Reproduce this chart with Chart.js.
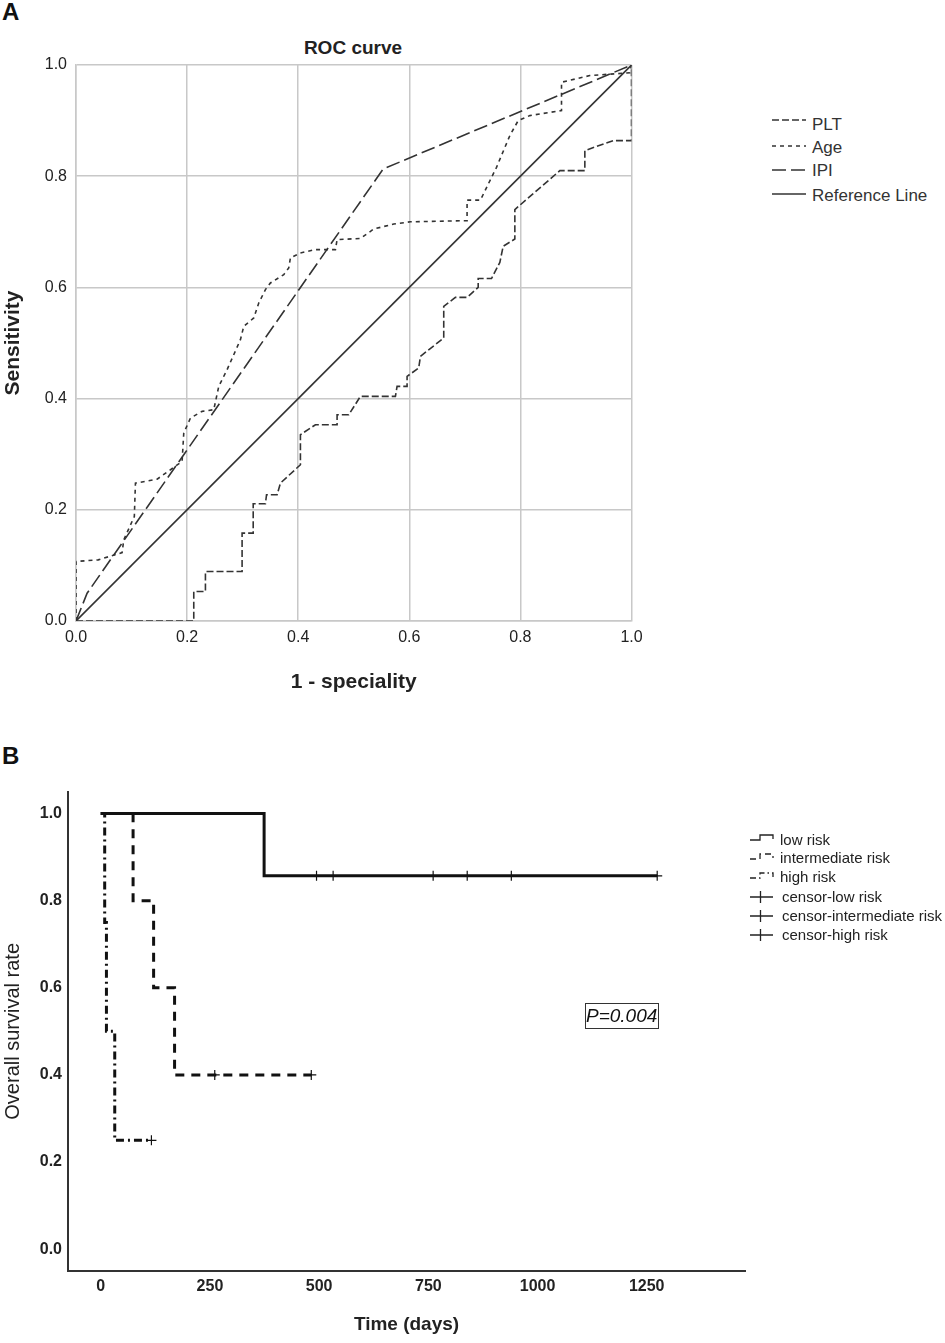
<!DOCTYPE html>
<html><head><meta charset="utf-8">
<script src="https://cdn.jsdelivr.net/npm/chart.js@4.4.1/dist/chart.umd.min.js"></script>
<style>
html,body{margin:0;padding:0;background:#fff;}
body{width:945px;height:1343px;position:relative;overflow:hidden;font-family:"Liberation Sans",Arial,sans-serif;color:#222;}
canvas{position:absolute;left:0;}
.t{position:absolute;white-space:nowrap;}
.panel{font-size:24px;font-weight:bold;line-height:24px;color:#111;}
.rocleg{font-size:17px;line-height:23px;color:#333;}
.kmleg{font-size:15px;line-height:18px;color:#222;}
#pbox{position:absolute;left:585px;top:1003px;width:72px;height:24px;border:1px solid #333;font-style:italic;font-size:19px;line-height:24px;color:#111;overflow:visible;}
</style></head>
<body>
<div class="t panel" style="left:2px;top:0px;">A</div>
<div class="t panel" style="left:2px;top:744px;">B</div>
<div class="t" style="left:253px;top:37px;width:200px;text-align:center;font-size:19px;font-weight:bold;line-height:22px;color:#222;">ROC curve</div>

<canvas id="cA" width="706" height="700" style="top:0;width:706px;height:700px;"></canvas>
<canvas id="cB" width="760" height="603" style="top:740px;width:760px;height:603px;"></canvas>

<!-- ROC legend -->
<svg style="position:absolute;left:770px;top:108px;" width="40" height="100">
  <line x1="2" y1="12" x2="36" y2="12" stroke="#333" stroke-width="1.6" stroke-dasharray="7,3"/>
  <line x1="2" y1="38" x2="36" y2="38" stroke="#333" stroke-width="1.6" stroke-dasharray="4,4"/>
  <line x1="2" y1="62" x2="36" y2="62" stroke="#333" stroke-width="1.6" stroke-dasharray="14,5"/>
  <line x1="2" y1="86" x2="36" y2="86" stroke="#333" stroke-width="1.6"/>
</svg>
<div class="t rocleg" style="left:812px;top:113px;">PLT</div>
<div class="t rocleg" style="left:812px;top:136px;">Age</div>
<div class="t rocleg" style="left:812px;top:159px;">IPI</div>
<div class="t rocleg" style="left:812px;top:184px;">Reference Line</div>

<!-- KM legend -->
<svg style="position:absolute;left:745px;top:826px;" width="35" height="120">
  <path d="M5,14 H15 V9 H28 V13" fill="none" stroke="#222" stroke-width="1.3"/>
  <path d="M5,33 H15 V28 H28 V32" fill="none" stroke="#222" stroke-width="1.3" stroke-dasharray="6,4"/>
  <path d="M5,52 H15 V47 H28 V51" fill="none" stroke="#222" stroke-width="1.3" stroke-dasharray="6,3,1.5,3"/>
  <path d="M5,71 H28 M15.5,65 V77" fill="none" stroke="#222" stroke-width="1.3"/>
  <path d="M5,90 H28 M15.5,84 V96" fill="none" stroke="#222" stroke-width="1.3"/>
  <path d="M5,109 H28 M15.5,103 V115" fill="none" stroke="#222" stroke-width="1.3"/>
</svg>
<div class="t kmleg" style="left:780px;top:831px;">low risk</div>
<div class="t kmleg" style="left:780px;top:849px;">intermediate risk</div>
<div class="t kmleg" style="left:780px;top:868px;">high risk</div>
<div class="t kmleg" style="left:782px;top:888px;">censor-low risk</div>
<div class="t kmleg" style="left:782px;top:907px;">censor-intermediate risk</div>
<div class="t kmleg" style="left:782px;top:926px;">censor-high risk</div>

<div id="pbox">P=0.004</div>

<script>
// ---------- ROC data ----------
const rocTicks = [0, 0.2, 0.4, 0.6, 0.8, 1.0];
const pltFpr = [0,0.212,0.212,0.233,0.233,0.299,0.299,0.319,0.319,0.341,0.343,0.362,0.368,0.404,0.404,0.431,0.47,0.47,0.491,0.512,0.575,0.578,0.596,0.596,0.617,0.62,0.662,0.662,0.683,0.704,0.724,0.724,0.748,0.763,0.769,0.79,0.79,0.871,0.916,0.916,0.967,1,1];
const pltTpr = [0,0,0.053,0.053,0.089,0.089,0.158,0.158,0.211,0.211,0.227,0.227,0.248,0.281,0.335,0.353,0.353,0.371,0.371,0.404,0.404,0.422,0.422,0.44,0.455,0.476,0.509,0.566,0.582,0.582,0.6,0.616,0.616,0.645,0.674,0.687,0.74,0.81,0.81,0.846,0.864,0.864,1];
const ageFpr = [0,0,0.04,0.083,0.086,0.105,0.107,0.146,0.191,0.194,0.206,0.227,0.248,0.257,0.272,0.296,0.302,0.32,0.329,0.341,0.35,0.374,0.383,0.386,0.404,0.431,0.467,0.47,0.512,0.536,0.572,0.602,0.704,0.704,0.728,0.757,0.781,0.796,0.817,0.874,0.874,0.925,0.997,1];
const ageTpr = [0,0.107,0.11,0.123,0.146,0.188,0.248,0.255,0.287,0.338,0.365,0.377,0.38,0.422,0.452,0.506,0.53,0.545,0.572,0.596,0.608,0.623,0.635,0.653,0.662,0.668,0.668,0.686,0.688,0.705,0.714,0.718,0.72,0.757,0.757,0.816,0.873,0.90,0.909,0.918,0.969,0.981,0.986,1];
const ipiFpr = [0, 0.02, 0.553, 1];
const ipiTpr = [0, 0.05, 0.813, 1];
const refFpr = [0, 1];
const refTpr = [0, 1];

// ---------- Kaplan-Meier data ----------
const kmTicksX = [0, 250, 500, 750, 1000, 1250];
const kmTicksY = [0, 0.2, 0.4, 0.6, 0.8, 1.0];
const lowT = [0, 374, 1274];
const lowS = [1, 0.857, 0.857];
const interT = [0, 74, 121, 169, 482];
const interS = [1, 0.8, 0.6, 0.4, 0.4];
const highT = [0, 9, 13, 32, 116];
const highS = [1, 0.75, 0.5, 0.25, 0.25];
const lowCensorT = [494, 532, 761, 839, 940, 1274];
const interCensorT = [261, 482];
const highCensorT = [116];

const FONT = '"Liberation Sans", Arial, sans-serif';
const pts = (xs, ys) => xs.map((x, i) => ({x: x, y: ys[i]}));
const survAt = (ts, ss, t) => { let s = ss[0]; for (let i = 0; i < ts.length; i++) { if (ts[i] <= t) s = ss[i]; } return s; };
const censorPts = (cts, ts, ss) => cts.map(t => ({x: t, y: survAt(ts, ss, t)}));

Chart.defaults.font.family = FONT;

function rocLine(label, xs, ys, dash) {
  return {label: label, data: pts(xs, ys), showLine: true, borderColor: '#333', borderWidth: 1.6,
          borderDash: dash, pointRadius: 0, fill: false, tension: 0, borderCapStyle: 'butt'};
}

new Chart(document.getElementById('cA'), {
  type: 'scatter',
  data: {datasets: [
    rocLine('PLT', pltFpr, pltTpr, [7, 3]),
    rocLine('Age', ageFpr, ageTpr, [4, 4]),
    rocLine('IPI', ipiFpr, ipiTpr, [14, 5]),
    rocLine('Reference Line', refFpr, refTpr, [])
  ]},
  options: {
    responsive: false, animation: false, devicePixelRatio: 1,
    layout: {padding: {top: 65, right: 74.5, left: 0, bottom: 0}},
    plugins: {legend: {display: false}, tooltip: {enabled: false}},
    scales: {
      x: {
        type: 'linear', min: 0, max: 1,
        afterBuildTicks: s => { s.ticks = rocTicks.map(v => ({value: v})); },
        afterFit: s => { s.height = 79; },
        grid: {color: '#c8c8c8', lineWidth: 1.5, drawTicks: false},
        border: {color: '#c8c8c8', width: 1.5},
        ticks: {padding: 7, color: '#222', font: {size: 16}, callback: v => Number(v).toFixed(1)},
        title: {display: true, text: '1 - speciality', color: '#222', font: {size: 21, weight: 'bold'}, padding: {top: 0, bottom: 5}}
      },
      y: {
        type: 'linear', min: 0, max: 1,
        afterBuildTicks: s => { s.ticks = rocTicks.map(v => ({value: v})); },
        afterFit: s => { s.width = 76; },
        grid: {color: '#c8c8c8', lineWidth: 1.5, drawTicks: false},
        border: {color: '#c8c8c8', width: 1.5},
        ticks: {padding: 9, color: '#222', font: {size: 16}, callback: v => Number(v).toFixed(1)},
        title: {display: true, text: 'Sensitivity', color: '#222', font: {size: 21, weight: 'bold'}, padding: {top: 1, bottom: 0}}
      }
    }
  }
});

function kmLine(label, ts, ss, dash) {
  return {type: 'line', label: label, data: pts(ts, ss), stepped: 'before', borderColor: '#111', borderWidth: 3,
          borderDash: dash, pointRadius: 0, fill: false, borderCapStyle: 'butt', borderJoinStyle: 'miter'};
}
function kmCensor(label, data) {
  return {type: 'scatter', label: label, data: data, pointStyle: 'cross', pointRadius: 5,
          pointBorderWidth: 1.2, borderColor: '#111', backgroundColor: '#111', showLine: false};
}

new Chart(document.getElementById('cB'), {
  type: 'scatter',
  data: {datasets: [
    kmLine('low risk', lowT, lowS, []),
    kmLine('intermediate risk', interT, interS, [9, 7]),
    kmLine('high risk', highT, highS, [8, 4, 2, 4]),
    kmCensor('censor-low risk', censorPts(lowCensorT, lowT, lowS)),
    kmCensor('censor-intermediate risk', censorPts(interCensorT, interT, interS)),
    kmCensor('censor-high risk', censorPts(highCensorT, highT, highS))
  ]},
  options: {
    responsive: false, animation: false, devicePixelRatio: 1,
    layout: {padding: {top: 51.7, right: 15, left: 0, bottom: 0}},
    plugins: {legend: {display: false}, tooltip: {enabled: false}},
    scales: {
      x: {
        type: 'linear', min: -75, max: 1475,
        afterBuildTicks: s => { s.ticks = kmTicksX.map(v => ({value: v})); },
        afterFit: s => { s.height = 72; },
        grid: {display: false, drawTicks: false},
        border: {color: '#333', width: 2},
        ticks: {padding: 6, color: '#222', font: {size: 16, weight: 'bold'}, callback: v => String(v)},
        title: {display: true, text: 'Time (days)', color: '#222', font: {size: 19, weight: 'bold'}, padding: {top: 0, bottom: 7}}
      },
      y: {
        type: 'linear', min: -0.05, max: 1.05,
        afterBuildTicks: s => { s.ticks = kmTicksY.map(v => ({value: v})); },
        afterFit: s => { s.width = 68; },
        grid: {display: false, drawTicks: false},
        border: {color: '#333', width: 2},
        ticks: {padding: 6, color: '#222', font: {size: 16, weight: 'bold'}, callback: v => Number(v).toFixed(1)},
        title: {display: true, text: 'Overall survival rate', color: '#222', font: {size: 20}, padding: {top: 1, bottom: 0}}
      }
    }
  }
});
</script>
</body></html>
